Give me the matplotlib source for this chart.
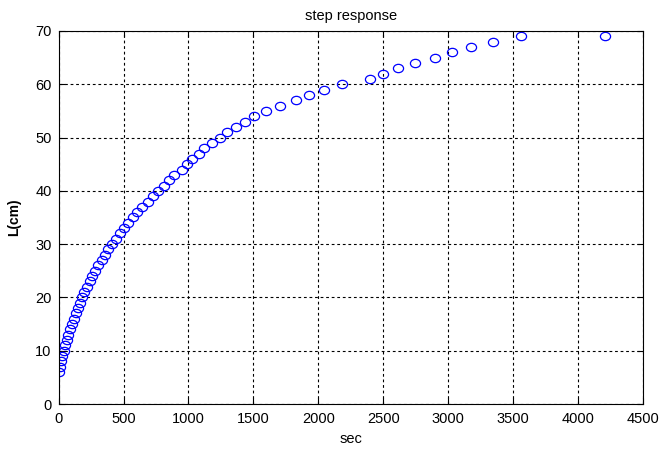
import matplotlib
matplotlib.use("Agg")
import matplotlib.pyplot as plt
from matplotlib.path import Path
from matplotlib.transforms import Affine2D

level_cm = list(range(6, 70)) + [69]
time_sec = [0, 8, 17, 27, 38, 50, 62, 75, 88, 102, 116, 131, 146, 162, 178,
            197, 217, 238, 260, 283, 307, 332, 357, 383, 410,
            441, 472, 504, 537, 571, 606, 642, 690, 729, 768,
            809, 850, 891, 947, 988, 1029, 1081, 1122, 1183, 1240,
            1299, 1363, 1435, 1504, 1599, 1704, 1825, 1930, 2043, 2179,
            2397, 2500, 2610, 2744, 2898, 3031, 3177, 3342, 3560, 4206]

plt.rcParams['font.family'] = ['Liberation Sans', 'DejaVu Sans']

ellipse = Path.unit_circle().transformed(Affine2D().scale(1.0, 0.82))

fig = plt.figure(figsize=(6.67, 4.49), dpi=100)
ax = fig.add_axes([0.0879, 0.1002, 0.8761, 0.8308])
ax.plot(time_sec, level_cm, linestyle='none', marker=ellipse, markersize=7.3,
        markerfacecolor='none', markeredgecolor='#0000ff', markeredgewidth=0.9)
ax.set_xlim(0, 4500)
ax.set_ylim(0, 70)
ax.set_xticks(range(0, 4501, 500))
ax.set_yticks(range(0, 71, 10))
ax.grid(True, color='black', linestyle=(0, (2.5, 2.5)), linewidth=0.8)
ax.tick_params(direction='in', top=True, right=True, labelsize=10.5, length=4, width=0.8)
ax.tick_params(axis='x', pad=6)
ax.tick_params(axis='y', pad=5)
for s in ax.spines.values():
    s.set_linewidth(0.8)
ax.set_title('step response', fontsize=10.5, pad=8)
ax.set_xlabel('sec', fontsize=10.5, labelpad=4)
ax.set_ylabel('L(cm)', fontsize=10, fontweight='bold', labelpad=10)
fig.savefig('out.png', dpi=100)
